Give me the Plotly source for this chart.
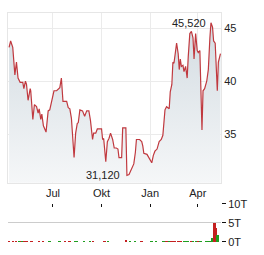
import pandas as pd
import plotly.graph_objects as go

# days since 2024-07-01 and closing prices
price_days = [-83, -80, -76, -72, -69, -66, -62, -57, -55, -52, -50, -47, -43, -42, -38, -35, -31, -28, -26,
              -23, -21, -18, -13, -9, -6, -2, 2, 7, 10, 13, 16, 19, 26, 29, 32, 35, 40, 43, 46, 48, 51, 56,
              60, 64, 68, 71, 75, 77, 81, 84, 92, 94, 96, 100, 103, 106, 109, 113, 116, 120, 123, 125, 130,
              132, 138, 140, 144, 149, 153, 156, 158, 164, 168, 170, 172, 178, 182, 187, 190, 193, 197, 201,
              205, 208, 212, 215, 220, 222, 225, 227, 229, 231, 234, 237, 239, 241, 243, 246, 248, 251, 254,
              256, 259, 262, 265, 267, 270, 273, 275, 278, 282, 284, 287, 291, 294, 297, 299, 302, 304, 307,
              311, 313, 317]
price = [43.2, 43.8, 43.2, 40.6, 41.8, 40.3, 39.9, 39.9, 39.3, 40.0, 39.7, 38.2, 39.3, 39.1, 36.4, 37.8,
         37.6, 37.0, 37.4, 36.4, 36.9, 35.8, 35.2, 37.2, 37.3, 38.1, 39.1, 39.1, 39.3, 39.4, 40.3, 38.1,
         38.1, 37.5, 37.4, 36.5, 32.8, 35.1, 36.0, 36.1, 37.3, 37.2, 36.7, 37.2, 37.2, 36.3, 34.5, 35.1,
         35.1, 35.5, 35.5, 34.5, 34.6, 32.4, 34.3, 34.6, 35.1, 34.5, 33.7, 33.7, 33.6, 32.8, 32.8, 35.6,
         35.6, 31.12, 31.2, 31.8, 32.2, 33.3, 34.5, 34.5, 34.3, 33.9, 33.2, 33.1, 32.7, 32.3, 33.0, 33.4,
         33.6, 34.3, 34.5, 34.9, 37.3, 37.6, 37.4, 39.0, 39.7, 41.8, 41.7, 42.3, 43.6, 42.6, 41.1, 42.1,
         41.4, 41.5, 40.9, 41.4, 40.3, 42.3, 44.5, 44.7, 44.1, 42.1, 44.5, 42.9, 42.7, 42.9, 35.4, 39.1,
         39.3, 40.0, 41.1, 44.1, 45.52, 45.1, 43.8, 43.6, 39.1, 41.8, 42.6]

vol_days = [-84, -83, -75, -69, -64, -60, -57, -55, -51, -49, -40, -26, -18, -6, 13, 23, 32, 43, 45, 60,
            70, 76, 98, 105, 138, 146, 155, 168, 187, 196, 208, 212, 215, 218, 221, 224, 227, 231, 237,
            240, 243, 249, 253, 256, 262, 265, 272, 275, 278, 281, 291, 294, 297, 301, 306, 309, 312]
vol = [300, 300, 300, 300, 300, 300, 300, 300, 300, 300, 300, 300, 300, 300, 300, 300, 300, 300, 300,
       300, 300, 300, 300, 300, 600, 300, 300, 300, 300, 300, 300, 300, 300, 300, 300, 300, 300, 300,
       300, 300, 300, 300, 300, 300, 300, 300, 300, 300, 300, 300, 300, 300, 300, 1100, 5150, 3600, 1800]
vol_up = [0, 0, 0, 0, 1, 0, 1, 0, 0, 0, 0, 0, 0, 1, 1, 0, 0, 1, 1, 1, 1, 0, 0, 1, 0, 1, 1, 0, 1, 1,
          1, 1, 0, 0, 1, 0, 0, 0, 0, 0, 0, 1, 1, 1, 0, 1, 1, 0, 1, 1, 1, 1, 1, 1, 0, 0, 1]

tick_days = [0, 92, 184, 274]
tick_text = ["Jul", "Okt", "Jan", "Apr"]
y_ticks = [35, 40, 45]
vol_ticks = [0, 5000, 10000]
vol_tick_text = ["0T", "5T", "10T"]

base = pd.Timestamp("2024-07-01")
def to_dates(days):
    return [base + pd.Timedelta(days=d) for d in days]

dates = to_dates(price_days)
vdates = to_dates(vol_days)
tdates = to_dates(tick_days)
x_range = to_dates([-85, 318])

imax = price.index(max(price))
imin = price.index(min(price))

fig = go.Figure()
fig.add_trace(go.Scatter(
    x=dates, y=price, mode="lines",
    line=dict(color="#c0393f", width=1.2),
    fill="tozeroy",
    fillgradient=dict(type="vertical", start=30.4, stop=45.5,
                      colorscale=[[0, "#f7f8f9"], [1, "#d3dce2"]]),
    xaxis="x", yaxis="y", hoverinfo="skip"))
fig.add_trace(go.Bar(
    x=vdates, y=vol,
    marker=dict(color=["#1f9e1f" if u else "#c42020" for u in vol_up], line=dict(width=0)),
    width=3.2 * 86400000,
    xaxis="x2", yaxis="y2", hoverinfo="skip"))

font = dict(family="Liberation Sans, Arial, sans-serif", size=11, color="#222")
fig.update_layout(
    width=264, height=255,
    margin=dict(l=8, r=43, t=7, b=8),
    paper_bgcolor="white", plot_bgcolor="white",
    showlegend=False, font=font,
    xaxis=dict(domain=[0, 1], range=x_range, type="date", tickvals=tdates, ticktext=tick_text,
               showgrid=True, gridcolor="#ebebeb", gridwidth=1, ticks="",
               showline=True, linecolor="#e6e6e6", mirror=True, zeroline=False,
               anchor="y", tickfont=font),
    yaxis=dict(domain=[0.2583, 1], range=[30.41, 46.44], side="right", tickvals=y_ticks,
               showgrid=True, gridcolor="#ebebeb", ticks="", showline=True, linecolor="#e6e6e6",
               mirror=True, zeroline=False, anchor="x", tickfont=font),
    xaxis2=dict(domain=[0, 1], range=x_range, type="date", tickvals=tdates, showticklabels=False,
                side="top", ticks="inside", ticklen=3, tickcolor="#111", showgrid=False,
                showline=False, zeroline=False, anchor="y2"),
    yaxis2=dict(domain=[0, 0.1667], range=[0, 10000], side="right", tickvals=vol_ticks,
                ticktext=vol_tick_text, showgrid=True, gridcolor="#cccccc", ticks="outside",
                ticklen=4, tickcolor="#111", showline=False, zeroline=False, anchor="x2",
                tickfont=font),
    bargap=0,
)
fig.add_annotation(x=dates[imax], y=price[imax], xref="x", yref="y",
                   text=f"{price[imax]:.3f}".replace(".", ","), showarrow=False,
                   xanchor="right", yanchor="middle", xshift=-3, font=font)
fig.add_annotation(x=dates[imin], y=price[imin], xref="x", yref="y",
                   text=f"{price[imin]:.3f}".replace(".", ","), showarrow=False,
                   xanchor="right", yanchor="middle", xshift=-5, font=font)
fig.write_html("out.html")
